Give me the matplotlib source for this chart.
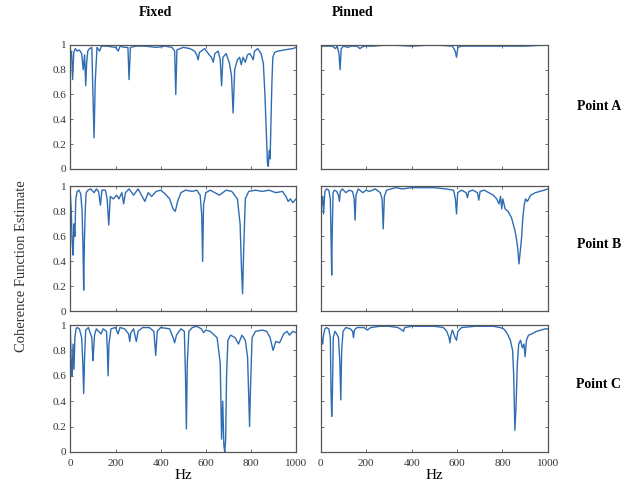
"""Coherence function estimates, fixed vs. pinned boundary, three measurement points."""
import matplotlib

matplotlib.use("Agg")
import matplotlib.pyplot as plt

plt.rcParams["font.family"] = ["Liberation Serif", "DejaVu Serif"]

LINE = "#2f6db3"
SPINE = "#555555"

X_TICKS = [0, 200, 400, 600, 800, 1000]
Y_TICKS = [0, 0.2, 0.4, 0.6, 0.8, 1]
Y_TICK_LABELS = ["0", "0.2", "0.4", "0.6", "0.8", "1"]
COLUMNS = ["Fixed", "Pinned"]
ROWS = ["Point A", "Point B", "Point C"]

# Fixed, Point A
fa_hz = [0, 5, 10, 15, 22, 30, 40, 50, 57, 63,
         68, 72, 77, 85, 95, 100, 105, 110, 118, 129,
         138, 160, 200, 212, 220, 240, 255, 260, 266, 290,
         330, 380, 420, 450, 462, 467, 472, 500, 530, 550,
         560, 566, 572, 595, 615, 625, 633, 640, 655, 664,
         670, 676, 690, 705, 714, 721, 728, 740, 750, 757,
         765, 775, 785, 795, 805, 810, 816, 830, 845, 855,
         862, 868, 873, 877, 881, 885, 889, 893, 897, 905,
         920, 950, 985, 1000]
fa_coh = [0.9, 0.95, 0.72, 0.94, 0.97, 0.95, 0.96, 0.93, 0.8, 0.92,
          0.67, 0.85, 0.95, 0.97, 0.98, 0.6, 0.25, 0.7, 0.98, 0.95,
          0.99, 0.99, 0.98, 0.95, 0.99, 0.98, 0.98, 0.72, 0.98, 0.99,
          0.99, 0.98, 0.99, 0.98, 0.95, 0.6, 0.96, 0.98, 0.97, 0.95,
          0.92, 0.88, 0.94, 0.97, 0.92, 0.9, 0.86, 0.93, 0.95, 0.88,
          0.67, 0.9, 0.93, 0.85, 0.75, 0.45, 0.8, 0.88, 0.9, 0.84,
          0.9, 0.86, 0.92, 0.93, 0.9, 0.88, 0.95, 0.97, 0.93, 0.85,
          0.6, 0.3, 0.05, 0.02, 0.15, 0.08, 0.4, 0.7, 0.9, 0.94,
          0.95, 0.96, 0.97, 0.98]

# Pinned, Point A
pa_hz = [0, 5, 15, 30, 50, 65, 72, 80, 85, 90,
         100, 120, 130, 160, 172, 180, 190, 230, 300, 400,
         500, 580, 592, 598, 604, 620, 700, 800, 900, 1000]
pa_coh = [0.97, 0.99, 0.99, 0.99, 0.99, 0.97, 0.99, 0.93, 0.8, 0.97,
          0.99, 0.98, 0.99, 0.99, 0.97, 0.98, 0.99, 0.99, 1.0, 0.99,
          1.0, 0.99, 0.95, 0.9, 0.98, 0.99, 0.99, 0.99, 0.99, 1.0]

# Fixed, Point B
fb_hz = [0, 4, 8, 12, 16, 20, 24, 30, 38, 46,
         52, 56, 59, 62, 66, 70, 78, 90, 105, 115,
         125, 133, 140, 155, 163, 170, 177, 190, 205, 215,
         228, 236, 244, 260, 280, 300, 315, 330, 345, 360,
         380, 400, 420, 440, 455, 465, 475, 490, 510, 540,
         560, 575, 582, 586, 590, 600, 620, 660, 690, 715,
         740, 752, 758, 763, 768, 775, 790, 820, 850, 880,
         910, 940, 955, 965, 975, 985, 1000]
fb_coh = [0.93, 0.8, 0.55, 0.45, 0.7, 0.6, 0.9, 0.96, 0.97, 0.94,
          0.8, 0.5, 0.17, 0.55, 0.82, 0.95, 0.97, 0.98, 0.95, 0.98,
          0.96, 0.85, 0.97, 0.97, 0.9, 0.69, 0.92, 0.9, 0.93, 0.9,
          0.95, 0.86, 0.95, 0.98, 0.93, 0.98, 0.93, 0.88, 0.95, 0.92,
          0.96, 0.97, 0.94, 0.9, 0.82, 0.8, 0.88, 0.95, 0.97, 0.96,
          0.97, 0.93, 0.77, 0.4, 0.85, 0.95, 0.97, 0.93, 0.97, 0.96,
          0.9, 0.7, 0.35, 0.14, 0.5, 0.9, 0.96, 0.97, 0.96, 0.97,
          0.95, 0.96, 0.92, 0.88, 0.9, 0.87, 0.9]

# Pinned, Point B
pb_hz = [0, 4, 8, 12, 18, 25, 35, 42, 46, 48,
         50, 54, 60, 70, 78, 82, 86, 95, 110, 125,
         140, 147, 151, 155, 165, 185, 200, 215, 240, 262,
         270, 275, 280, 290, 310, 330, 360, 400, 450, 500,
         550, 585, 593, 598, 603, 620, 640, 646, 652, 670,
         690, 696, 702, 720, 740, 760, 775, 785, 792, 797,
         802, 812, 825, 840, 855, 862, 868, 873, 877, 881,
         885, 890, 896, 902, 910, 925, 945, 965, 985, 1000]
pb_coh = [0.98, 0.85, 0.92, 0.78, 0.96, 0.98, 0.97, 0.9, 0.5, 0.29,
          0.6, 0.95, 0.97, 0.96, 0.93, 0.88, 0.96, 0.98, 0.95, 0.97,
          0.96, 0.9, 0.73, 0.93, 0.98, 0.95, 0.97, 0.96, 0.98, 0.95,
          0.9, 0.66, 0.92, 0.97, 0.98, 0.99, 0.98, 0.99, 0.99, 0.99,
          0.98, 0.97, 0.9, 0.78, 0.95, 0.97, 0.95, 0.91, 0.96, 0.97,
          0.95, 0.89, 0.96, 0.97, 0.95, 0.93, 0.9, 0.86, 0.92, 0.82,
          0.9, 0.82, 0.8, 0.75, 0.65, 0.58, 0.5, 0.38, 0.45, 0.52,
          0.6, 0.75, 0.85, 0.9, 0.88, 0.93, 0.95, 0.96, 0.97, 0.98]

# Fixed, Point C
fc_hz = [0, 4, 8, 12, 16, 20, 25, 30, 40, 50,
         55, 59, 63, 68, 80, 95, 100, 103, 107, 115,
         125, 136, 145, 160, 164, 167, 171, 180, 200, 211,
         220, 240, 258, 263, 268, 280, 292, 300, 320, 350,
         370, 378, 385, 400, 440, 455, 462, 470, 490, 505,
         510, 514, 518, 525, 540, 560, 580, 590, 600, 620,
         650, 664, 670, 675, 680, 684, 688, 692, 698, 710,
         730, 745, 760, 775, 785, 790, 794, 798, 805, 820,
         850, 870, 885, 898, 910, 927, 945, 960, 971, 985, 1000]
fc_coh = [0.95, 0.7, 0.6, 0.85, 0.65, 0.9, 0.97, 0.98, 0.97, 0.9,
          0.7, 0.46, 0.75, 0.96, 0.98, 0.9, 0.72, 0.8, 0.92, 0.97,
          0.95, 0.93, 0.97, 0.95, 0.8, 0.6, 0.85, 0.97, 0.98, 0.93,
          0.98, 0.97, 0.93, 0.87, 0.94, 0.97, 0.87, 0.95, 0.98, 0.98,
          0.95, 0.76, 0.95, 0.98, 0.97, 0.9, 0.86, 0.92, 0.97, 0.95,
          0.6, 0.18, 0.7, 0.95, 0.98, 0.99, 0.97, 0.94, 0.96, 0.95,
          0.9, 0.7, 0.1, 0.4, 0.05, 0.0, 0.1, 0.6, 0.88, 0.92,
          0.9, 0.85, 0.92, 0.88, 0.75, 0.45, 0.2, 0.5, 0.9, 0.95,
          0.96, 0.95, 0.9, 0.8, 0.87, 0.86, 0.93, 0.95, 0.92, 0.95, 0.94]

# Pinned, Point C
pc_hz = [0, 4, 8, 12, 18, 25, 35, 42, 45, 48,
         51, 55, 62, 70, 78, 84, 88, 92, 98, 110,
         130, 140, 144, 148, 160, 190, 205, 220, 260, 300,
         340, 358, 364, 370, 400, 450, 500, 540, 555, 565,
         569, 573, 580, 592, 598, 604, 620, 680, 760, 790,
         805, 815, 825, 835, 845, 850, 855, 860, 866, 872,
         880, 888, 895, 900, 906, 915, 930, 950, 970, 990, 1000]
pc_coh = [0.97, 0.88, 0.85, 0.92, 0.97, 0.98, 0.97, 0.9, 0.48, 0.28,
          0.45, 0.9, 0.95, 0.93, 0.9, 0.7, 0.41, 0.8, 0.95, 0.98,
          0.97, 0.95, 0.9, 0.96, 0.98, 0.98, 0.96, 0.98, 0.99, 0.99,
          0.98, 0.96, 0.95, 0.98, 0.99, 0.99, 0.99, 0.98, 0.95, 0.9,
          0.86, 0.92, 0.96, 0.9, 0.88, 0.95, 0.98, 0.99, 0.99, 0.98,
          0.97, 0.95, 0.92, 0.88, 0.8, 0.6, 0.17, 0.35, 0.7, 0.85,
          0.88, 0.82, 0.85, 0.75, 0.88, 0.92, 0.93, 0.95, 0.96, 0.97, 0.97]

PANELS = [
    [(fa_hz, fa_coh), (pa_hz, pa_coh)],
    [(fb_hz, fb_coh), (pb_hz, pb_coh)],
    [(fc_hz, fc_coh), (pc_hz, pc_coh)],
]

# axes boxes in figure fractions (left, bottom, width, height)
COL_X = [(0.111, 0.356), (0.506, 0.358)]
ROW_Y = [(0.654, 0.254), (0.362, 0.256), (0.074, 0.260)]


def style(ax, show_x, show_y):
    ax.set_xlim(0, 1000)
    ax.set_ylim(0, 1)
    ax.set_xticks(X_TICKS)
    ax.set_yticks(Y_TICKS)
    ax.set_yticklabels(Y_TICK_LABELS)
    ax.tick_params(direction="in", length=2.5, width=0.6, colors=SPINE,
                   labelcolor="#333333", labelsize=8, top=True, right=True,
                   labelbottom=show_x, labelleft=show_y)
    ax.tick_params(axis="x", pad=5)
    ax.tick_params(axis="y", pad=3)
    for sp in ax.spines.values():
        sp.set_color(SPINE)
        sp.set_linewidth(0.9)


def main():
    fig = plt.figure(figsize=(6.34, 4.88), dpi=100)
    for r, (y0, h) in enumerate(ROW_Y):
        for c, (x0, w) in enumerate(COL_X):
            ax = fig.add_axes([x0, y0, w, h])
            hz, coh = PANELS[r][c]
            ax.plot(hz, coh, color=LINE, lw=1.0)
            style(ax, show_x=(r == 2), show_y=(c == 0))
            if r == 2:
                ax.set_xlabel("Hz", fontsize=11, labelpad=1)

    fig.text(155 / 634, 1 - 13 / 488, COLUMNS[0], ha="center", va="center",
             fontsize=10, fontweight="bold")
    fig.text(353 / 634, 1 - 13 / 488, COLUMNS[1], ha="center", va="center",
             fontsize=10, fontweight="bold")
    for label, ypix in zip(ROWS, [106, 245, 385]):
        fig.text(599 / 634, 1 - ypix / 488, label, ha="center", va="center",
                 fontsize=10, fontweight="bold")
    fig.text(22 / 634, 1 - 266 / 488, "Coherence Function Estimate",
             rotation=90, ha="center", va="center", fontsize=10.5, color="#333333")

    fig.savefig("out.png", dpi=100)


if __name__ == "__main__":
    main()
